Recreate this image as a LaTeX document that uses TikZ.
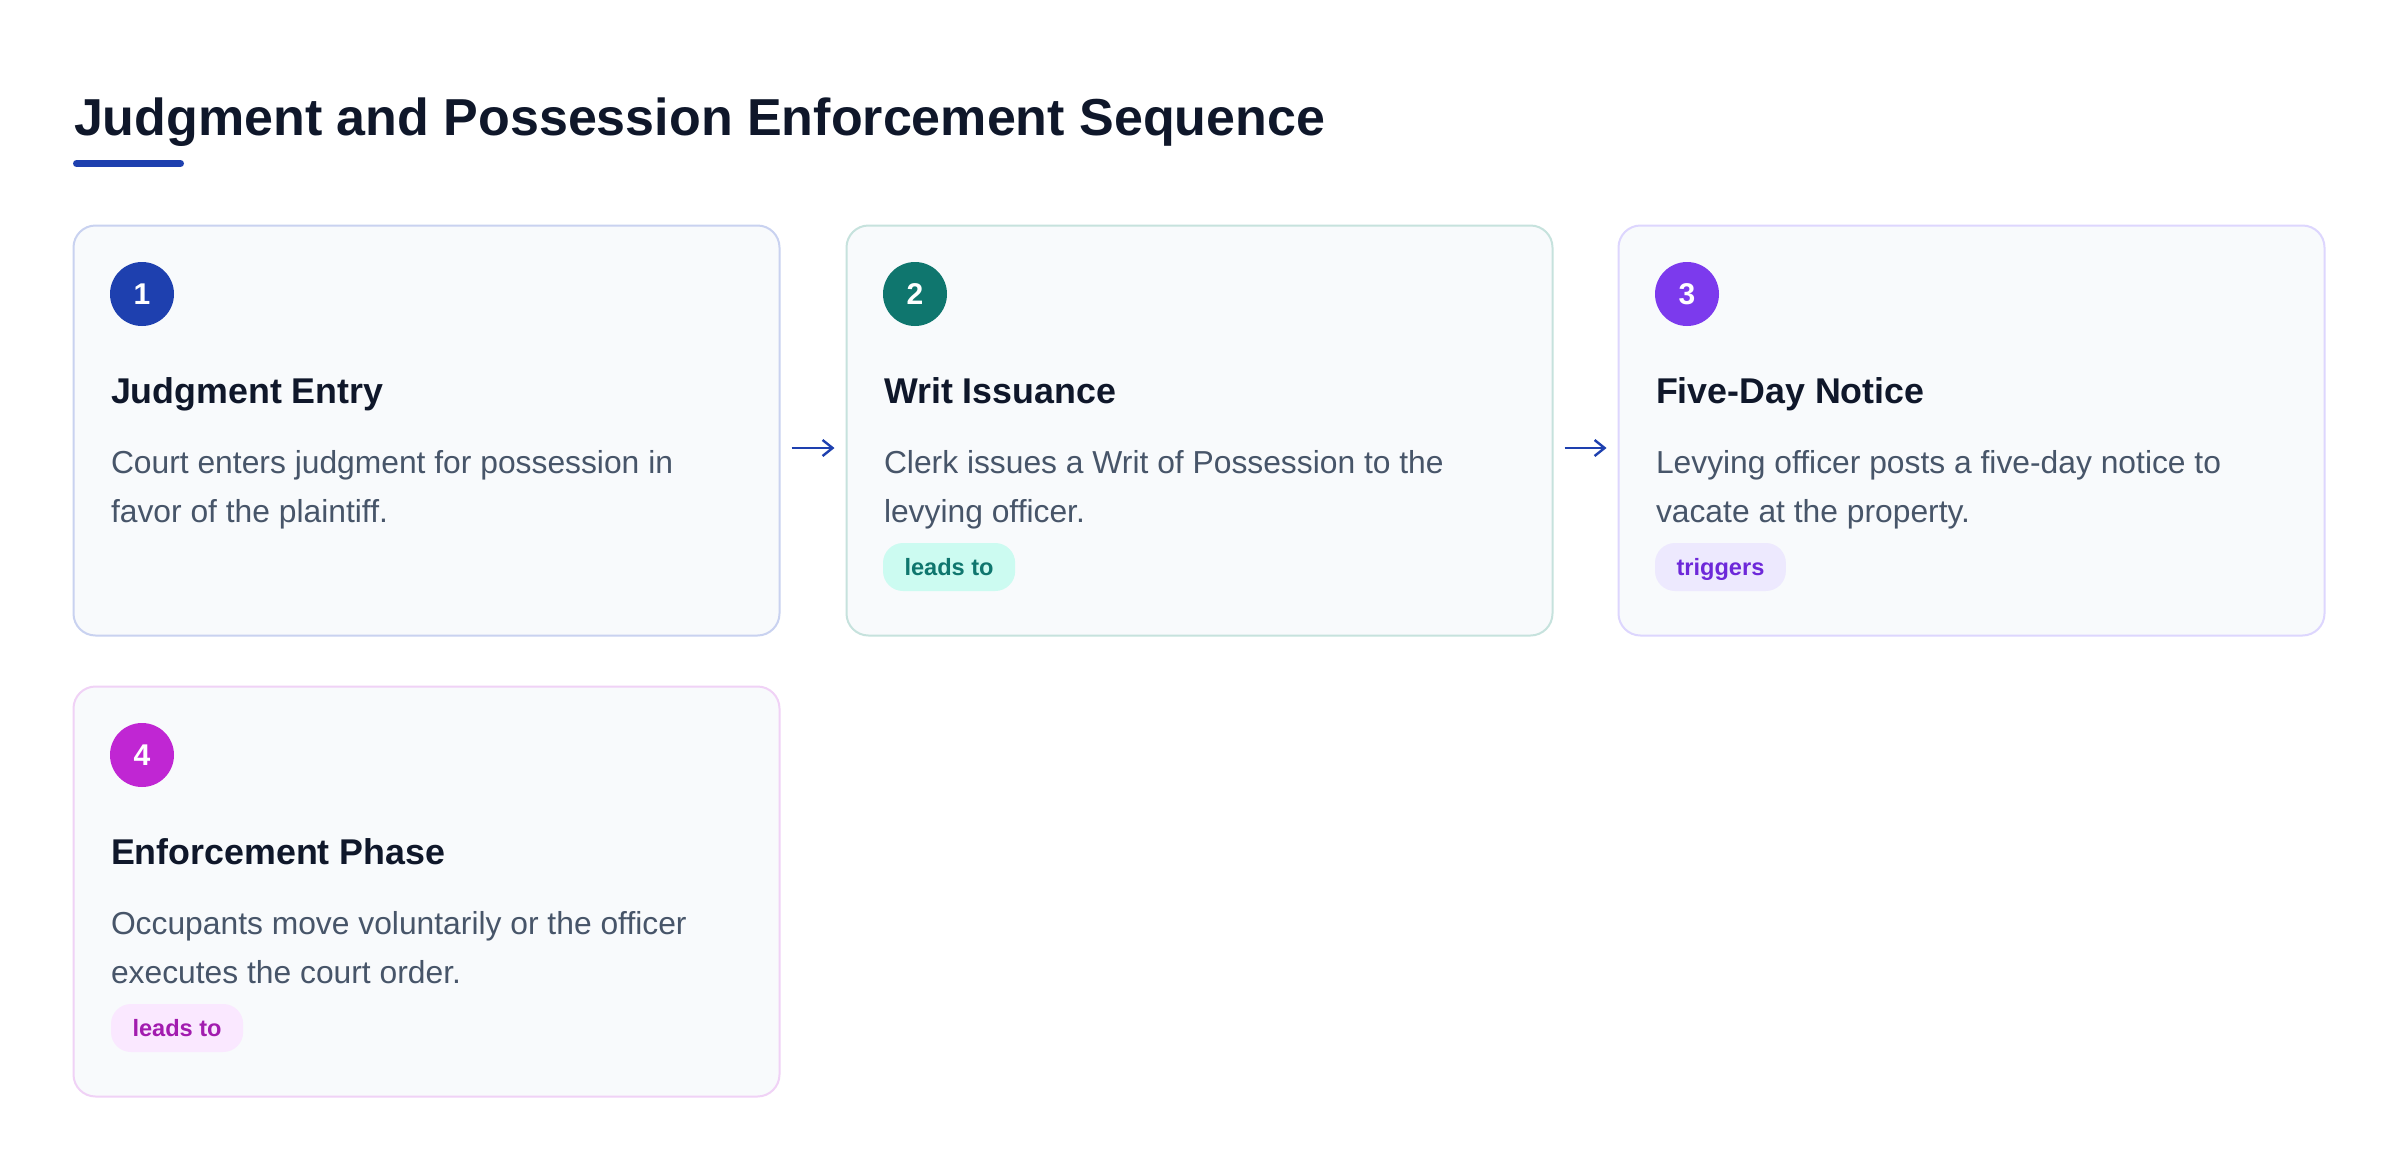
\documentclass[tikz,border=0pt]{standalone}
\usepackage{fontspec}
\setmainfont{Liberation Sans}
\usetikzlibrary{arrows.meta}
\definecolor{ink}{HTML}{0F172A}
\definecolor{slate}{HTML}{475569}
\definecolor{cardbg}{HTML}{F8FAFC}
\definecolor{blueone}{HTML}{1E40AF}
\definecolor{tealtwo}{HTML}{0F766E}
\definecolor{violetthree}{HTML}{7C3AED}
\definecolor{fuchsiafour}{HTML}{C026D3}
\definecolor{edgeone}{HTML}{C9D2F0}
\definecolor{edgetwo}{HTML}{C6E2DD}
\definecolor{edgethree}{HTML}{DDD6FE}
\definecolor{edgefour}{HTML}{F0D2F6}
\definecolor{tagtealbg}{HTML}{CCFBF1}
\definecolor{tagvioletbg}{HTML}{EDE9FE}
\definecolor{tagvioletfg}{HTML}{6D28D9}
\definecolor{tagpinkbg}{HTML}{FAE8FF}
\definecolor{tagpinkfg}{HTML}{A21CAF}
\tikzset{every picture/.style={line width=1pt}}
\tikzset{
  card/.style={draw, fill=cardbg, rounded corners=11pt, minimum width=353pt, minimum height=205pt, anchor=north west, inner sep=0pt},
  badge/.style={circle, minimum size=32pt, inner sep=0pt, text=white, font=\fontsize{15}{18}\selectfont\bfseries},
  heading/.style={anchor=base west, inner sep=0pt, text=ink, font=\fontsize{17.9}{21}\selectfont\bfseries},
  body/.style={anchor=base west, inner sep=0pt, text=slate, align=left, font=\fontsize{15.9}{24.5}\selectfont},
  tag/.style={anchor=north west, rounded corners=10pt, minimum height=24pt, inner xsep=10.75pt, inner ysep=0pt, text height=8.6pt, text depth=0pt, font=\fontsize{11.8}{14}\selectfont\bfseries},
  flow/.style={draw=blueone, line width=1.2pt, -{Straight Barb[length=5pt,width=8pt]}, shorten <=5.5pt, shorten >=5.5pt}
}
\begin{document}
\begin{tikzpicture}[x=0.5pt,y=0.5pt,yscale=-1,xscale=1]
\fill[white] (0,0) rectangle (2400,1168);
\useasboundingbox (0,0) rectangle (2400,1168);
% title
\node[anchor=base west, inner sep=0pt, text=ink, font=\fontsize{26}{30}\selectfont\bfseries] (title) at (73,135) {Judgment and Possession Enforcement Sequence};
\draw[blueone, line width=3.5pt, line cap=round] (76.5,163.5) -- (180.5,163.5);
% cards
\node[card, draw=edgeone] (entry) at (72.5,224.5) {};
\node[card, draw=edgetwo] (writ) at (845.5,224.5) {};
\node[card, draw=edgethree] (notice) at (1617.5,224.5) {};
\node[card, draw=edgefour] (enforce) at (72.5,685.5) {};
% step numbers
\node[badge, fill=blueone] (n1) at (142,294) {1};
\node[badge, fill=tealtwo] (n2) at (915,294) {2};
\node[badge, fill=violetthree] (n3) at (1687,294) {3};
\node[badge, fill=fuchsiafour] (n4) at (142,755) {4};
% headings
\node[heading] (h1) at (110,403) {Judgment Entry};
\node[heading] (h2) at (883,403) {Writ Issuance};
\node[heading] (h3) at (1655,403) {Five-Day Notice};
\node[heading] (h4) at (110,864) {Enforcement Phase};
% descriptions (base = last line)
\node[body] (d1) at (110,522) {Court enters judgment for possession in\\favor of the plaintiff.};
\node[body] (d2) at (883,522) {Clerk issues a Writ of Possession to the\\levying officer.};
\node[body] (d3) at (1655,522) {Levying officer posts a five-day notice to\\vacate at the property.};
\node[body] (d4) at (110,983) {Occupants move voluntarily or the officer\\executes the court order.};
% tags
\node[tag, fill=tagtealbg, text=tealtwo] (t2) at (882,542) {leads to};
\node[tag, fill=tagvioletbg, text=tagvioletfg] (t3) at (1654,542) {triggers};
\node[tag, fill=tagpinkbg, text=tagpinkfg] (t4) at (110,1003) {leads to};
% arrows
\draw[flow] ([yshift=8.75pt]entry.east) -- ([yshift=8.75pt]writ.west);
\draw[flow] ([yshift=8.75pt]writ.east) -- ([yshift=8.75pt]notice.west);
\end{tikzpicture}
\end{document}
